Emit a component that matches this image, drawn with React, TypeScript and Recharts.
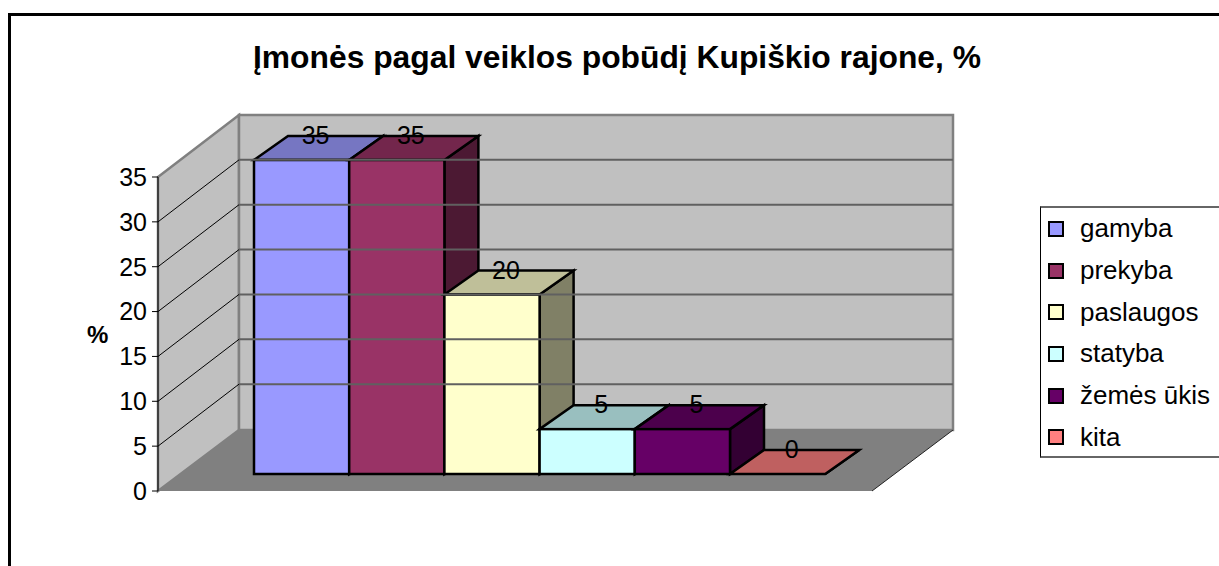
import React from 'react';
import { BarChart, Bar, XAxis, YAxis, ReferenceArea, ReferenceLine, LabelList, Legend } from 'recharts';

const seriesNames = ['gamyba', 'prekyba', 'paslaugos', 'statyba', 'žemės ūkis', 'kita'];
const seriesValues = [35, 35, 20, 5, 5, 0];
const seriesColors = ['#9999FF', '#993366', '#FFFFCC', '#CCFFFF', '#660066', '#FF8080'];
const topColors = ['#7676C2', '#73264C', '#BFBF99', '#99BFBF', '#4C004C', '#BF6060'];
const sideColors = ['#4C4C80', '#4C1933', '#808066', '#668080', '#330033', '#804040'];
const yTicks = [0, 5, 10, 15, 20, 25, 30, 35];
const chartTitle = 'Įmonės pagal veiklos pobūdį Kupiškio rajone, %';
const yAxisTitle = '%';

const chartData = [
  Object.fromEntries([['name', ''], ...seriesNames.map((n, i) => [n, seriesValues[i]])]),
];

const FONT = '"Liberation Sans", Arial, sans-serif';

// fake 3d projection, all in pixels
const WALL_DX = 81;
const WALL_DY = 61;
const BAR_OFFSET_X = 25;
const BAR_OFFSET_Y = 17;
const BAR_DEPTH_X = 34;
const BAR_DEPTH_Y = 24;

const pts = (list: number[][]) => list.map((p) => p.join(',')).join(' ');

// side wall, back wall and floor around the plot area
const Walls = ({ x, y, width, height }: any) => {
  const right = x + width;
  const bottom = y + height;
  return (
    <g>
      <polygon
        points={pts([[x, y], [x + WALL_DX, y - WALL_DY - 1], [x + WALL_DX, bottom - WALL_DY], [x, bottom]])}
        fill="#C0C0C0"
        stroke="#808080"
        strokeWidth={2.5}
      />
      <polygon
        points={pts([[x + WALL_DX, y - WALL_DY - 1], [right + WALL_DX, y - WALL_DY - 1], [right + WALL_DX, bottom - WALL_DY], [x + WALL_DX, bottom - WALL_DY]])}
        fill="#C0C0C0"
        stroke="#808080"
        strokeWidth={2.5}
      />
      <polygon
        points={pts([[x, bottom], [x + WALL_DX, bottom - WALL_DY], [right + WALL_DX, bottom - WALL_DY], [right, bottom]])}
        fill="#808080"
      />
      <line x1={right} y1={bottom} x2={right + WALL_DX} y2={bottom - WALL_DY} stroke="#222" strokeWidth={1} />
    </g>
  );
};

// one gridline bent over the side wall and the back wall
const GridLine = ({ x1, x2, y1 }: any) => (
  <g>
    <line x1={x1} y1={y1} x2={x1 + WALL_DX} y2={y1 - WALL_DY - 1} stroke="#000" strokeWidth={1} />
    <line x1={x1 + WALL_DX} y1={y1 - WALL_DY - 1} x2={x2 + WALL_DX} y2={y1 - WALL_DY - 1} stroke="#606060" strokeWidth={2} />
  </g>
);

const makeBox = (i: number) => (props: any) => {
  const { x, y, width, height } = props;
  const left = x + BAR_OFFSET_X;
  const top = y - BAR_OFFSET_Y;
  const right = left + width;
  const bottom = top + height;
  return (
    <g stroke="#000" strokeWidth={2.5} strokeLinejoin="miter">
      <polygon
        points={pts([[right, top], [right + BAR_DEPTH_X, top - BAR_DEPTH_Y], [right + BAR_DEPTH_X, bottom - BAR_DEPTH_Y], [right, bottom]])}
        fill={sideColors[i]}
      />
      <polygon
        points={pts([[left, top], [left + BAR_DEPTH_X, top - BAR_DEPTH_Y], [right + BAR_DEPTH_X, top - BAR_DEPTH_Y], [right, top]])}
        fill={topColors[i]}
      />
      <rect x={left} y={top} width={width} height={height} fill={seriesColors[i]} />
    </g>
  );
};

const BoxLabel = ({ x, y, width, value }: any) => (
  <text
    x={x + BAR_OFFSET_X + width / 2 + 14}
    y={y - BAR_OFFSET_Y - 25}
    textAnchor="middle"
    dominantBaseline="central"
    fontSize={25}
    fontFamily={FONT}
    fill="#000"
  >
    {value}
  </text>
);

const LegendBox = ({ payload }: any) => (
  <div
    style={{
      boxSizing: 'border-box',
      width: 200,
      height: 252,
      borderTop: '2px solid #666',
      borderBottom: '2px solid #666',
      borderLeft: '1px solid #000',
      background: '#fff',
      fontFamily: FONT,
      fontSize: 26,
      color: '#000',
    }}
  >
    {payload.map((item: any) => (
      <div key={item.value} style={{ display: 'flex', alignItems: 'center', height: 41.7, paddingLeft: 7 }}>
        <span
          style={{
            boxSizing: 'border-box',
            width: 16,
            height: 16,
            border: '2px solid #000',
            background: item.color,
            marginRight: 16,
          }}
        />
        <span style={{ whiteSpace: 'nowrap' }}>{item.value}</span>
      </div>
    ))}
  </div>
);

export default function App() {
  return (
    <div style={{ position: 'absolute', left: 0, top: 0, width: 1219, height: 566, overflow: 'hidden', background: '#fff' }}>
      <div style={{ position: 'absolute', left: 8, top: 13, width: 1400, height: 800, border: '3px solid #000' }} />
      <BarChart
        width={1219}
        height={566}
        data={chartData}
        margin={{ top: 177, right: 147, bottom: 75, left: 98 }}
        barSize={95.2}
        barGap={0}
        style={{ position: 'absolute', left: 0, top: 0 }}
      >
        <ReferenceArea y1={0} y2={35} shape={<Walls />} ifOverflow="visible" />
        {yTicks.slice(1, -1).map((t) => (
          <ReferenceLine key={t} y={t} shape={<GridLine />} />
        ))}
        <XAxis dataKey="name" height={0} tick={false} tickLine={false} axisLine={{ stroke: '#333', strokeWidth: 2 }} />
        <YAxis
          width={60}
          domain={[0, 35]}
          ticks={yTicks}
          interval={0}
          tickSize={6}
          tickMargin={5}
          tickLine={{ stroke: '#000' }}
          axisLine={{ stroke: '#000' }}
          tick={{ fill: '#000', fontSize: 25, fontFamily: FONT }}
          label={{ value: yAxisTitle, position: 'insideLeft', dx: -16, fontSize: 24, fontWeight: 700, fontFamily: FONT, fill: '#000' }}
        />
        <Legend
          layout="vertical"
          align="right"
          verticalAlign="top"
          itemSorter={null}
          content={<LegendBox />}
          wrapperStyle={{ left: 1040, top: 206, right: 'auto', width: 200, height: 252 }}
        />
        {seriesNames.map((name, i) => (
          <Bar key={name} dataKey={name} name={name} fill={seriesColors[i]} shape={makeBox(i)} isAnimationActive={false}>
            <LabelList dataKey={name} content={<BoxLabel />} />
          </Bar>
        ))}
      </BarChart>
      <div
        style={{
          position: 'absolute',
          left: 0,
          top: 39,
          width: 1234,
          textAlign: 'center',
          fontFamily: FONT,
          fontSize: 31.8,
          fontWeight: 700,
          color: '#000',
          whiteSpace: 'nowrap',
        }}
      >
        {chartTitle}
      </div>
    </div>
  );
}
